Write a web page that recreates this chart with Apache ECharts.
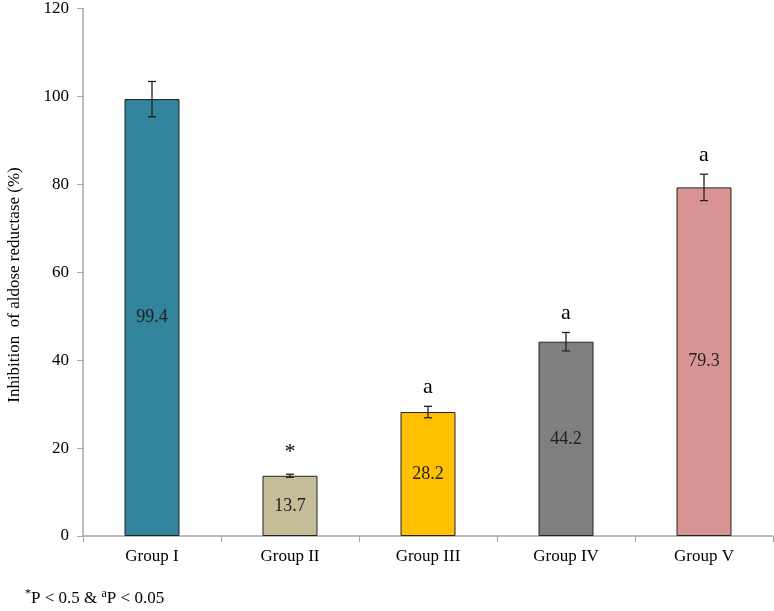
<!DOCTYPE html>
<html>
<head>
<meta charset="utf-8">
<script src="https://cdn.jsdelivr.net/npm/echarts@6/dist/echarts.min.js"></script>
<style>html,body{margin:0;padding:0;background:#fff;}#c{width:774px;height:611px;}</style>
</head>
<body>
<div id="c"></div>
<script>
var categories = ['Group I', 'Group II', 'Group III', 'Group IV', 'Group V'];
var values = [99.4, 13.7, 28.2, 44.2, 79.3];
var errors = [4.0, 0.35, 1.3, 2.1, 3.0];
var marks = ['', '*', 'a', 'a', 'a'];
var colors = ['#31849B', '#C4BD97', '#FFC000', '#7F7F7F', '#D99594'];
var yTicks = [0, 20, 40, 60, 80, 100, 120];

var FONT = '"Liberation Serif", "Times New Roman", serif';
var chart = echarts.init(document.getElementById('c'));

var errData = values.map(function (v, i) { return [i, v - errors[i], v + errors[i]]; });

chart.setOption({
  animation: false,
  grid: { left: 83, right: 1, top: 7, bottom: 75 },
  xAxis: {
    type: 'category',
    data: categories,
    axisLine: { lineStyle: { color: '#A6A6A6', width: 1.5 } },
    axisTick: { show: true, length: 6, lineStyle: { color: '#A6A6A6' } },
    axisLabel: { color: '#000', fontFamily: FONT, fontSize: 17, margin: 12 }
  },
  yAxis: {
    type: 'value',
    min: yTicks[0],
    max: yTicks[yTicks.length - 1],
    interval: 20,
    splitLine: { show: false },
    axisLine: { show: true, lineStyle: { color: '#A6A6A6', width: 1.5 } },
    axisTick: { show: true, length: 6, lineStyle: { color: '#A6A6A6' } },
    axisLabel: { color: '#000', fontFamily: FONT, fontSize: 17, margin: 14 }
  },
  graphic: [
    {
      type: 'text', x: 15, y: 285, rotation: Math.PI / 2,
      style: { text: 'Inhibition  of aldose reductase (%)', fill: '#000', font: '17px ' + FONT, textAlign: 'center', textVerticalAlign: 'middle' }
    },
    {
      type: 'text', left: 25, top: 588,
      style: {
        text: '{s|*}{n|P < 0.5 & }{s|a}{n|P < 0.05}',
        rich: {
          n: { fontFamily: FONT, fontSize: 17, fill: '#000', verticalAlign: 'bottom', lineHeight: 19 },
          s: { fontFamily: FONT, fontSize: 12, fill: '#000', verticalAlign: 'top', lineHeight: 12 }
        },
        fill: '#000'
      }
    }
  ],
  series: [
    {
      type: 'bar',
      data: values.map(function (v, i) { return { value: v, itemStyle: { color: colors[i] } }; }),
      barWidth: 55,
      itemStyle: { borderColor: '#222', borderWidth: 1 },
      label: { show: true, position: 'inside', color: '#222', fontFamily: FONT, fontSize: 18 }
    },
    {
      type: 'custom',
      data: errData,
      z: 10,
      renderItem: function (params, api) {
        var x = api.value(0);
        var lo = api.coord([x, api.value(1)]);
        var hi = api.coord([x, api.value(2)]);
        var cap = 4;
        var st = { stroke: '#222', lineWidth: 1.3 };
        var children = [
          { type: 'line', shape: { x1: lo[0], y1: lo[1], x2: hi[0], y2: hi[1] }, style: st },
          { type: 'line', shape: { x1: lo[0] - cap, y1: lo[1], x2: lo[0] + cap, y2: lo[1] }, style: st },
          { type: 'line', shape: { x1: hi[0] - cap, y1: hi[1], x2: hi[0] + cap, y2: hi[1] }, style: st }
        ];
        var m = marks[params.dataIndex];
        if (m) {
          children.push({
            type: 'text', x: hi[0], y: hi[1] - (m === '*' ? 22 : 19),
            style: { text: m, fill: '#000', font: '22px ' + FONT, textAlign: 'center', textVerticalAlign: 'middle' }
          });
        }
        return { type: 'group', children: children };
      }
    }
  ]
});
</script>
</body>
</html>
